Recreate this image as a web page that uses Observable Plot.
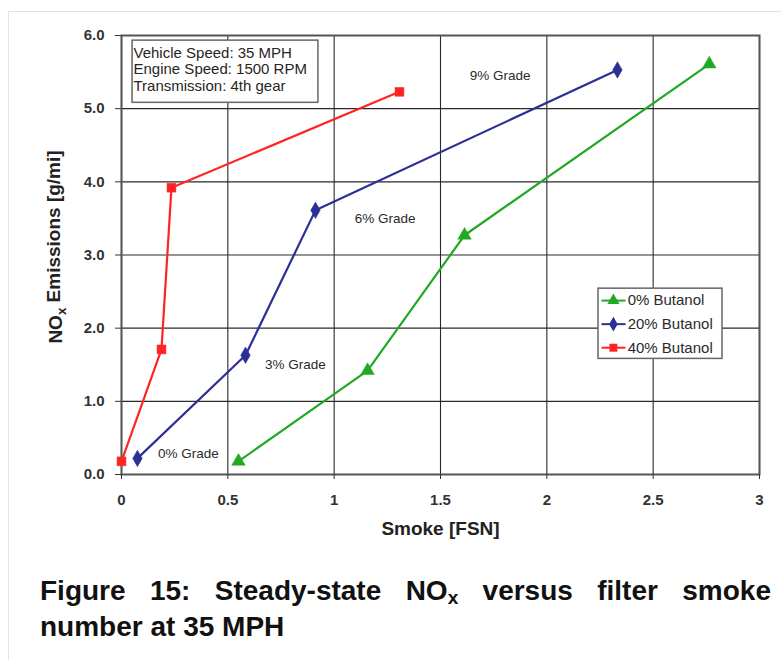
<!DOCTYPE html>
<html><head><meta charset="utf-8">
<script src="https://cdn.jsdelivr.net/npm/d3@7"></script>
<script src="https://cdn.jsdelivr.net/npm/@observablehq/plot@0.6"></script>
<style>
body{margin:0;background:#fff;font-family:"Liberation Sans",Arial,sans-serif;}
#frame{position:absolute;left:8px;top:11px;width:800px;height:700px;border-left:1px solid #e2e2e2;border-top:1px solid #e2e2e2;}
#chart{position:absolute;left:0;top:0;}
#caption{position:absolute;left:40px;top:573px;width:731px;font-weight:bold;font-size:28px;line-height:36px;color:#111;}
#caption .l1{text-align:justify;text-align-last:justify;}
#caption sub{font-size:0.68em;vertical-align:-0.22em;line-height:0;}
</style></head><body>
<div id="frame"></div>
<div id="chart"></div>
<div id="caption"><div class="l1">Figure 15: Steady-state NO<sub>x</sub> versus filter smoke</div><div>number at 35 MPH</div></div>
<script>
// ---- data ----
const series = ["0% Butanol", "20% Butanol", "40% Butanol"];
const smoke0 = [0.55, 1.157, 1.613, 2.764];
const nox0 = [0.18, 1.42, 3.27, 5.61];
const smoke20 = [0.075, 0.583, 0.912, 2.332];
const nox20 = [0.22, 1.63, 3.61, 5.53];
const smoke40 = [0.0, 0.188, 0.235, 1.307];
const nox40 = [0.18, 1.71, 3.92, 5.23];
const grades = ["0% Grade", "3% Grade", "6% Grade", "9% Grade"];
const gradeX = [0.315, 0.818, 1.24, 1.78];
const gradeY = [0.29, 1.50, 3.50, 5.45];
const xTicks = [0, 0.5, 1, 1.5, 2, 2.5, 3];
const yTicks = [0, 1, 2, 3, 4, 5, 6];
const infoLines = ["Vehicle Speed: 35 MPH", "Engine Speed: 1500 RPM", "Transmission: 4th gear"];
const xLabel = "Smoke [FSN]";
const yLabel = "NOx Emissions [g/mi]";

// ---- styles ----
const colors = ["#22a822", "#2c2f96", "#ff2424"];
const symbols = ["triangle", "diamond", "square"];

const smokeAll = [smoke0, smoke20, smoke40];
const noxAll = [nox0, nox20, nox40];
const rows = series.flatMap((s, i) => smokeAll[i].map((x, j) => ({series: s, smoke: x, nox: noxAll[i][j]})));
const gradeRows = grades.map((g, i) => ({label: g, x: gradeX[i], y: gradeY[i]}));

// legend / info box placement (layout, in plot units)
const legBox = {x1: 2.243, x2: 2.826, y1: 1.58, y2: 2.54};
const legY0 = 2.377, legStep = 0.322;
const legRows = series.map((s, i) => ({series: s, y: legY0 - i * legStep}));
const infoBox = {x1: 0.052, x2: 0.926, y1: 5.08, y2: 5.93};

const chart = Plot.plot({
  width: 781,
  height: 555,
  marginLeft: 121,
  marginRight: 22,
  marginTop: 35,
  marginBottom: 81,
  style: {fontFamily: "'Liberation Sans', Arial, sans-serif", background: "transparent"},
  x: {domain: [0, 3]},
  y: {domain: [0, 6]},
  color: {domain: series, range: colors},
  symbol: {domain: series, range: symbols},
  marks: [
    Plot.gridX(xTicks, {stroke: "#2a2a2a", strokeOpacity: 1, strokeWidth: 1.1}),
    Plot.gridY(yTicks, {stroke: "#2a2a2a", strokeOpacity: 1, strokeWidth: 1.1}),
    Plot.frame({stroke: "#555", strokeWidth: 2}),
    Plot.axisX(xTicks, {tickSize: 5, tickPadding: 15, tickFormat: d => String(d), fontSize: 15, fontWeight: "bold", color: "#333", label: null}),
    Plot.axisY(yTicks, {tickSize: 6, tickPadding: 11, tickFormat: d3.format(".1f"), fontSize: 15, fontWeight: "bold", color: "#333", label: null}),
    // info box
    Plot.rect([infoBox], {x1: "x1", x2: "x2", y1: "y1", y2: "y2", fill: "white", stroke: "#666", strokeWidth: 1.5}),
    Plot.text([infoLines.join("\n")], {frameAnchor: "top-left", dx: 12, dy: 10, lineAnchor: "top", textAnchor: "start", fontSize: 15, lineHeight: 1.13, fill: "#2a241e"}),
    // series
    Plot.line(rows, {x: "smoke", y: "nox", z: "series", stroke: "series", strokeWidth: 2.2}),
    Plot.dot(rows, {x: "smoke", y: "nox", fill: "series", symbol: "series", r: 5, stroke: "series", strokeWidth: 0.5}),
    // grade labels
    Plot.text(gradeRows, {x: "x", y: "y", text: "label", fontSize: 13.5, fill: "#2a2a2a"}),
    // legend
    Plot.rect([legBox], {x1: "x1", x2: "x2", y1: "y1", y2: "y2", fill: "white", stroke: "#666", strokeWidth: 1.5}),
    Plot.link(legRows, {x1: 2.257, x2: 2.37, y1: "y", y2: "y", stroke: "series", strokeWidth: 2}),
    Plot.dot(legRows, {x: 2.313, y: "y", fill: "series", symbol: "series", r: 4.5}),
    Plot.text(legRows, {x: 2.38, y: "y", text: "series", textAnchor: "start", fontSize: 15, fill: "#2a2a2a"}),
    // axis titles
    Plot.text([xLabel], {frameAnchor: "bottom", dy: 60, fontSize: 19, fontWeight: "bold", fill: "#222"}),
    Plot.text([yLabel], {frameAnchor: "left", textAnchor: "middle", dx: -66, dy: -8, rotate: -90, fontSize: 19, fontWeight: "bold", fill: "#222"})
  ]
});

d3.select(chart).selectAll("text").filter(function() { return this.textContent === yLabel; }).each(function() {
  const t = d3.select(this);
  t.text(null);
  t.append("tspan").text("NO");
  t.append("tspan").attr("dy", "0.3em").attr("font-size", "0.7em").text("x");
  t.append("tspan").attr("dy", "-0.3em").text(" Emissions [g/mi]");
});

document.getElementById("chart").appendChild(chart);
</script>
</body></html>
